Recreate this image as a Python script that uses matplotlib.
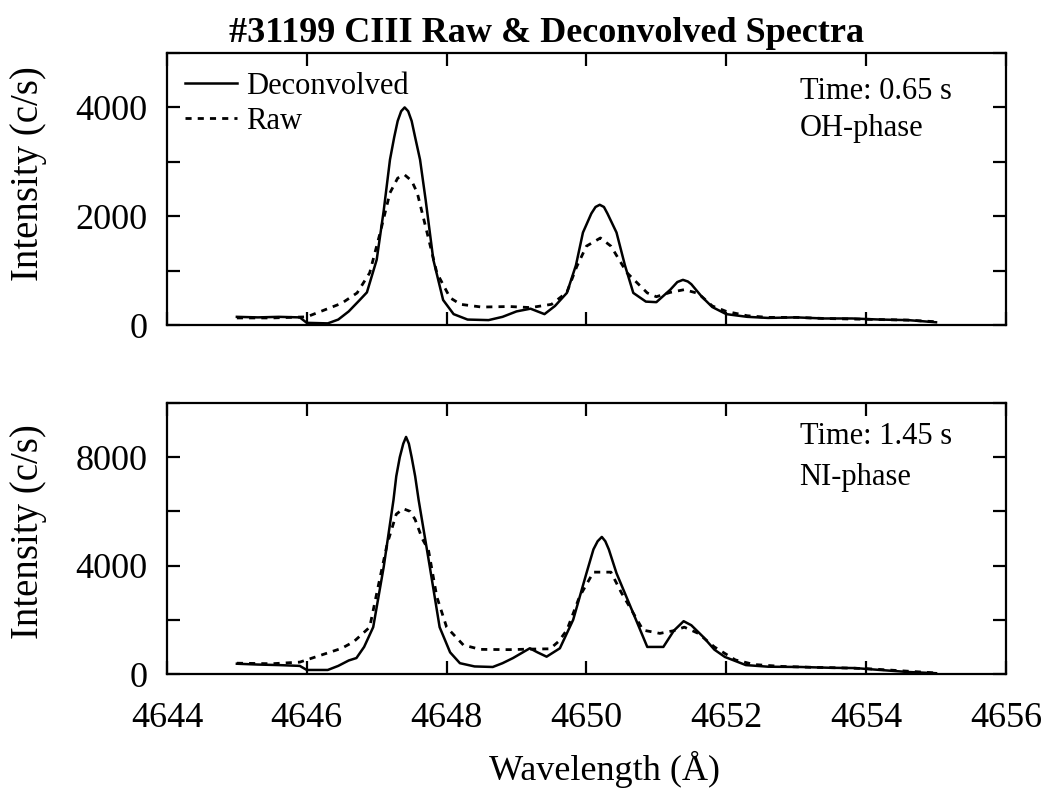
import matplotlib
matplotlib.use("Agg")
import matplotlib.pyplot as plt

# ---------------- data ----------------
top_dec_x = [4645.0, 4645.3, 4645.6, 4645.9, 4646.0, 4646.3, 4646.45, 4646.6, 4646.75, 4646.86,
             4647.0, 4647.1, 4647.19, 4647.25, 4647.3, 4647.35, 4647.40, 4647.45, 4647.5, 4647.55,
             4647.62, 4647.7, 4647.81, 4647.95,
             4648.1, 4648.3, 4648.6, 4648.8, 4649.0, 4649.2, 4649.4, 4649.55, 4649.72, 4649.85,
             4649.95, 4650.07, 4650.13, 4650.19, 4650.25, 4650.3, 4650.43, 4650.55, 4650.67, 4650.85,
             4651.0, 4651.2, 4651.3, 4651.38, 4651.45, 4651.5, 4651.65, 4651.8, 4652.0, 4652.3,
             4652.6, 4653.0, 4653.4, 4653.8, 4654.2, 4654.6, 4655.0]
top_dec_y = [150, 140, 150, 140, 40, 30, 100, 250, 450, 600,
             1200, 2100, 3040, 3450, 3750, 3930, 4000, 3930, 3750, 3450,
             3040, 2300, 1200, 460,
             200, 100, 90, 150, 250, 300, 200, 350, 590, 1100,
             1700, 2050, 2170, 2210, 2170, 2050, 1700, 1100, 590, 430,
             420, 650, 790, 830, 800, 750, 520, 330, 200, 150,
             130, 140, 120, 120, 100, 90, 50]

top_raw_x = [4645.0, 4645.5, 4646.0, 4646.3, 4646.5, 4646.72, 4646.9, 4647.05, 4647.19, 4647.3,
             4647.40, 4647.5, 4647.58, 4647.72, 4647.86, 4648.05, 4648.2, 4648.5, 4648.9, 4649.2,
             4649.5, 4649.72, 4649.86, 4650.0, 4650.2, 4650.35, 4650.58, 4650.87, 4651.0, 4651.2,
             4651.4, 4651.6, 4651.8, 4652.0, 4652.3, 4652.6, 4653.0, 4653.4, 4653.8, 4654.2,
             4654.6, 4655.0]
top_raw_y = [130, 130, 150, 300, 400, 590, 960, 1700, 2430, 2700,
             2760, 2650, 2430, 1700, 960, 500, 380, 330, 340, 320,
             380, 600, 1070, 1450, 1600, 1450, 960, 590, 520, 600,
             650, 580, 350, 250, 170, 140, 140, 120, 110, 100,
             90, 60]

bot_dec_x = [4645.0, 4645.3, 4645.6, 4645.9, 4646.0, 4646.3, 4646.45, 4646.6, 4646.71, 4646.82,
             4646.95, 4647.1, 4647.24, 4647.28, 4647.33, 4647.38, 4647.42, 4647.46, 4647.5, 4647.55,
             4647.6, 4647.76, 4647.9, 4648.05,
             4648.19, 4648.4, 4648.66, 4648.8, 4648.95, 4649.19, 4649.3, 4649.43, 4649.62, 4649.81,
             4650.0, 4650.1, 4650.16, 4650.22, 4650.27, 4650.32, 4650.43, 4650.67, 4650.87, 4651.1,
             4651.25, 4651.39, 4651.5, 4651.67, 4651.83, 4651.98, 4652.28, 4652.6, 4653.06, 4653.5,
             4653.84, 4654.2, 4654.6, 4655.0]
bot_dec_y = [380, 350, 330, 300, 150, 150, 300, 500, 590, 1000,
             1730, 3950, 6420, 7300, 8000, 8500, 8750, 8500, 8000, 7300,
             6420, 3950, 1730, 800,
             400, 280, 260, 400, 590, 950, 800, 640, 950, 2000,
             3720, 4600, 4900, 5060, 4900, 4600, 3720, 2240, 1000, 1000,
             1600, 1950, 1800, 1370, 900, 630, 330, 270, 260, 230,
             220, 150, 75, 30]

bot_raw_x = [4645.0, 4645.5, 4645.9, 4646.29, 4646.5, 4646.67, 4646.9, 4647.02, 4647.15, 4647.28,
             4647.38, 4647.48, 4647.55, 4647.65, 4647.74, 4647.86, 4648.0, 4648.24, 4648.48, 4648.9,
             4649.2, 4649.48, 4649.6, 4649.72, 4649.9, 4650.1, 4650.35, 4650.5, 4650.62, 4650.81,
             4651.05, 4651.25, 4651.4, 4651.6, 4651.83, 4652.13, 4652.4, 4652.8, 4653.2, 4653.6,
             4654.0, 4654.5, 4655.0]
bot_raw_y = [400, 380, 440, 770, 950, 1190, 1730, 3220, 4800, 5900,
             6100, 6000, 5700, 5000, 4580, 2850, 1730, 1070, 910, 900,
             920, 930, 1200, 1620, 2850, 3760, 3760, 3000, 2470, 1620,
             1500, 1600, 1730, 1500, 1000, 520, 350, 280, 250, 230,
             200, 120, 40]

x_ticks = [4644, 4646, 4648, 4650, 4652, 4654, 4656]
top_yticks = [0, 2000, 4000]
bot_yticks = [0, 4000, 8000]

title = "#31199 CIII Raw & Deconvolved Spectra"
xlabel = "Wavelength (Å)"
ylabel = "Intensity (c/s)"
top_note = ["Time: 0.65 s", "OH-phase"]
bot_note = ["Time: 1.45 s", "NI-phase"]

# ---------------- figure ----------------
plt.rcParams['font.family'] = ['Liberation Serif', 'DejaVu Serif']
fig = plt.figure(figsize=(10.54, 7.90), dpi=100)
fig.patch.set_facecolor('white')

ax1 = fig.add_axes([0.1584, 0.5886, 0.796, 0.3443])
ax2 = fig.add_axes([0.1584, 0.1468, 0.796, 0.3430])

raw_style = dict(color='black', lw=2.0, linestyle=(0, (2.2, 2.2)))
dec_style = dict(color='black', lw=1.8, linestyle='-')

ax1.plot(top_dec_x, top_dec_y, label='Deconvolved', **dec_style)
ax1.plot(top_raw_x, top_raw_y, label='Raw', **raw_style)
ax2.plot(bot_dec_x, bot_dec_y, **dec_style)
ax2.plot(bot_raw_x, bot_raw_y, **raw_style)

for ax in (ax1, ax2):
    ax.set_xlim(4644, 4656)
    ax.set_xticks(x_ticks)
    for s in ax.spines.values():
        s.set_linewidth(1.6)
    ax.tick_params(which='both', direction='in', top=True, right=True,
                   length=9.5, width=1.6, labelsize=26)
    ax.tick_params(axis='y', pad=14)
    ax.tick_params(axis='x', pad=20)

ax1.set_ylim(0, 5000)
ax1.set_yticks(top_yticks)
ax1.set_yticks([1000, 3000, 5000], minor=True)
ax1.tick_params(axis='x', labelbottom=False)

ax2.set_ylim(0, 10000)
ax2.set_yticks(bot_yticks)
ax2.set_yticks([2000, 6000, 10000], minor=True)

leg = ax1.legend(loc='upper left', bbox_to_anchor=(0.0215, 0.93), frameon=False,
                 fontsize=22, handlelength=1.7, handletextpad=0.3, labelspacing=0.2,
                 borderpad=0, borderaxespad=0)

ax1.text(0.754, 0.857, top_note[0], transform=ax1.transAxes, fontsize=22, va='center')
ax1.text(0.754, 0.724, top_note[1], transform=ax1.transAxes, fontsize=22, va='center')
ax2.text(0.754, 0.875, bot_note[0], transform=ax2.transAxes, fontsize=22, va='center')
ax2.text(0.754, 0.727, bot_note[1], transform=ax2.transAxes, fontsize=22, va='center')

fig.text(0.519, 0.958, title, ha='center', va='center', fontsize=26, fontweight='bold')
fig.text(0.574, 0.026, xlabel, ha='center', va='center', fontsize=26)
fig.text(0.0275, 0.780, ylabel, ha='center', va='center', rotation=90, fontsize=28)
fig.text(0.0275, 0.3266, ylabel, ha='center', va='center', rotation=90, fontsize=28)

fig.savefig('out.png', dpi=100, facecolor='white')
